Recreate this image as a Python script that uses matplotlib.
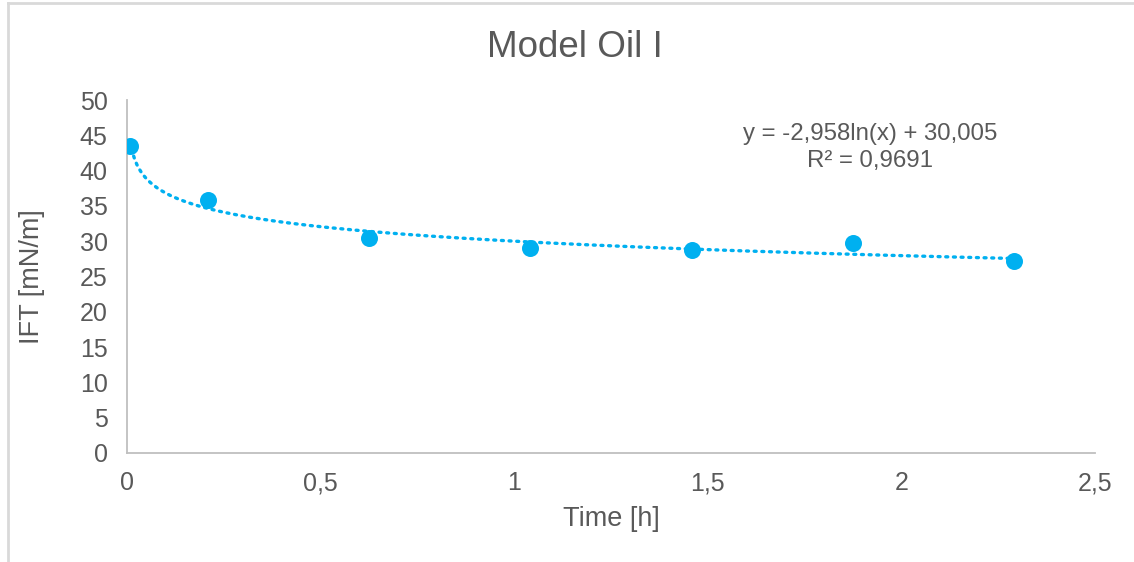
import numpy as np
import matplotlib
matplotlib.use("Agg")
from matplotlib import pyplot as plt
from matplotlib.ticker import FuncFormatter
from matplotlib.lines import Line2D

# measured points
time_h = [0.0083, 0.2083, 0.625, 1.0417, 1.4583, 1.875, 2.2917]
ift = [43.5, 35.8, 30.4, 29.0, 28.8, 29.8, 27.2]

# log trendline shown on the chart
coef_a = -2.958
coef_b = 30.005
r_squared = 0.9691

grey_txt = '#595959'
grey_line = '#BFBFBF'
blue = '#00B0F0'

plt.rcParams['font.family'] = ['Liberation Sans', 'DejaVu Sans']

fig = plt.figure(figsize=(11.34, 5.62), dpi=100)
ax = fig.add_axes([0.112, 0.194, 0.8536, 0.628])

xs = np.linspace(time_h[0], time_h[-1], 400)
ax.plot(xs, coef_a * np.log(xs) + coef_b, color=blue, lw=2.4,
        linestyle=(0, (0.6, 1.7)), dash_capstyle='round', zorder=2)
ax.scatter(time_h, ift, s=150, color=blue, zorder=3, linewidths=0)

ax.set_xlim(0, 2.5)
ax.set_ylim(0, 50)
ax.set_xticks(np.arange(0, 2.51, 0.5))
ax.set_yticks(np.arange(0, 51, 5))
ax.xaxis.set_major_formatter(FuncFormatter(lambda v, p: ('%g' % v).replace('.', ',')))
ax.tick_params(length=0, labelsize=18, colors=grey_txt)
ax.tick_params(axis='x', pad=13)
ax.tick_params(axis='y', pad=14)

for s in ['top', 'right']:
    ax.spines[s].set_visible(False)
for s in ['left', 'bottom']:
    ax.spines[s].set_color(grey_line)
    ax.spines[s].set_linewidth(1.3)

fig.text(0.507, 0.916, 'Model Oil I', fontsize=26.5, color=grey_txt,
         ha='center', va='center')
fig.text(0.539, 0.0765, 'Time [h]', fontsize=19.5, color=grey_txt,
         ha='center', va='center')
fig.text(0.028, 0.507, 'IFT [mN/m]', fontsize=19.5, color=grey_txt,
         ha='center', va='center', rotation=90)

eq = 'y = %sln(x) + %s\nR² = %s' % (('%.3f' % coef_a).replace('.', ','),
                                      ('%.3f' % coef_b).replace('.', ','),
                                      ('%.4f' % r_squared).replace('.', ','))
ax.text(1.92, 43.3, eq, ha='center', va='center', fontsize=17.3,
        color=grey_txt, linespacing=1.3)

# outer chart border (top and left visible)
fig.add_artist(Line2D([0.0068, 0.0068], [0, 0.994], color='#D9D9D9', lw=2))
fig.add_artist(Line2D([0.0068, 1], [0.994, 0.994], color='#D9D9D9', lw=2))

fig.savefig('out.png', dpi=100, facecolor='white')
